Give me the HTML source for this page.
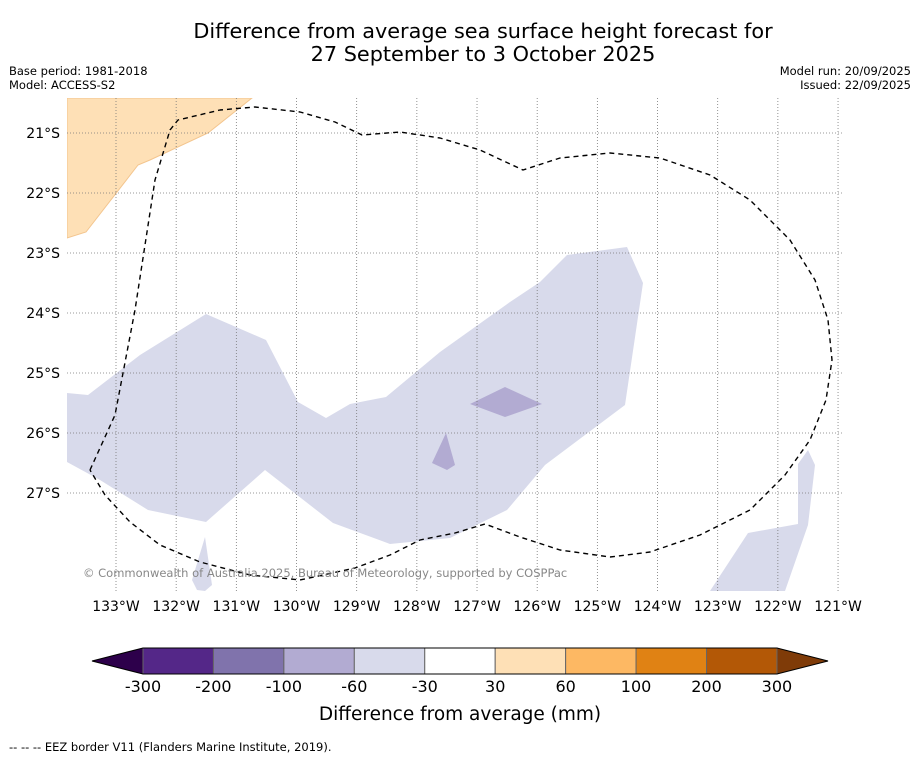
<!DOCTYPE html>
<html><head><meta charset="utf-8">
<style>
html,body{margin:0;padding:0;background:#fff;}
svg{display:block;font-family:"DejaVu Sans","Liberation Sans",sans-serif;}
</style></head>
<body>
<svg id="chart" width="919" height="758" viewBox="0 0 919 758">
<text x="483" y="38" font-size="20.8" text-anchor="middle">Difference from average sea surface height forecast for</text>
<text x="483" y="61" font-size="20.8" text-anchor="middle">27 September to 3 October 2025</text>
<text x="9" y="75" font-size="11.5">Base period: 1981-2018</text>
<text x="9" y="89" font-size="11.5">Model: ACCESS-S2</text>
<text x="911" y="75" font-size="11.5" text-anchor="end">Model run: 20/09/2025</text>
<text x="911" y="89" font-size="11.5" text-anchor="end">Issued: 22/09/2025</text>
<defs><clipPath id="mapclip"><rect x="67" y="98" width="776" height="493"/></clipPath></defs>
<g id="map" clip-path="url(#mapclip)"></g>
<g id="axes"></g>
<text x="83" y="577" font-size="11.5" fill="#888">© Commonwealth of Australia 2025, Bureau of Meteorology, supported by COSPPac</text>
<g id="cbar"></g>
<text x="460" y="720" font-size="18.5" text-anchor="middle">Difference from average (mm)</text>
<text x="9" y="751" font-size="11.5">--  --  -- EEZ border V11 (Flanders Marine Institute, 2019).</text>
</svg>
<script>
const cbTicks = ["-300","-200","-100","-60","-30","30","60","100","200","300"];
const cbColors = ["#542788","#8073ac","#b2abd2","#d8daeb","#ffffff","#fee0b6","#fdb863","#e08214","#b35806"];
const cbExtLow = "#2d004b", cbExtHigh = "#7f3b08";
const lonTicks = [133,132,131,130,129,128,127,126,125,124,123,122,121];
const latTicks = [21,22,23,24,25,26,27];

const NS="http://www.w3.org/2000/svg";
function mk(tag,attrs,parent){const e=document.createElementNS(NS,tag);for(const k in attrs)e.setAttribute(k,attrs[k]);parent.appendChild(e);return e;}
const xLon = w => 116 + (133 - w) * 60.17;
const yLat = s => 133 + (s - 21) * 60;
const cbX = i => 143 + i * 70.44;

const map=document.getElementById('map');
const geom = {
 land: [[67,98],[252,98],[208,133],[150,160],[138,165],[86,232],[67,238]],
 main: [[67,393],[88,395],[140,355],[206,314],[266,340],[298,402],[326,418],[350,404],[386,397],[440,352],[510,302],[540,282],[567,255],[627,247],[643,283],[625,405],[545,465],[507,510],[450,538],[390,544],[333,523],[265,470],[206,522],[148,510],[100,480],[67,462]],
 se: [[710,591],[748,533],[798,524],[798,464],[808,450],[815,465],[808,525],[785,591]],
 sw: [[192,580],[205,537],[212,585],[205,591],[197,590]],
 d1: [[470,404],[505,387],[542,404],[505,417]],
 d2: [[432,463],[446,433],[455,465],[447,470]],
 eez: [[90,470],[115,415],[135,310],[155,180],[170,130],[178,120],[220,110],[255,107],[300,112],[335,122],[362,135],[400,132],[440,138],[480,150],[523,170],[560,158],[610,153],[660,158],[710,175],[750,200],[790,240],[815,280],[828,320],[832,360],[826,400],[810,440],[785,475],[750,510],[700,535],[650,552],[610,557],[560,550],[520,537],[485,524],[455,533],[420,540],[390,555],[355,568],[300,580],[250,575],[200,562],[160,545],[130,522],[105,495],[90,470]]
};
const pts=a=>a.map(p=>p.join(',')).join(' ');
let e;
e=mk('polygon',{points:pts(geom.land),fill:cbColors[5],stroke:"#f3c58e","stroke-width":1},map);


for(const k of ['main','se','sw']){
 e=mk('polygon',{points:pts(geom[k]),fill:cbColors[3]},map);
 
 
}
for(const k of ['d1','d2']){
 e=mk('polygon',{points:pts(geom[k]),fill:cbColors[2]},map);
 
 
}
for(const w of lonTicks){
 e=mk('line',{x1:xLon(w),x2:xLon(w),y1:98,y2:591,stroke:"#777","stroke-width":0.8,"stroke-dasharray":"1,2"},map);
 
 
}
for(const s of latTicks){
 e=mk('line',{x1:67,x2:843,y1:yLat(s),y2:yLat(s),stroke:"#777","stroke-width":0.8,"stroke-dasharray":"1,2"},map);
 
 
}
e=mk('polyline',{points:pts(geom.eez),fill:"none",stroke:"#000","stroke-width":1.4,"stroke-dasharray":"5,4","stroke-linejoin":"round"},map);



const axes=document.getElementById('axes');
for(const w of lonTicks){
 e=mk('text',{x:xLon(w),y:611,"font-size":14,"text-anchor":"middle"},axes);
 e.textContent=w+"°W";
 
 
}
for(const s of latTicks){
 e=mk('text',{x:60,y:yLat(s)+5,"font-size":14,"text-anchor":"end"},axes);
 e.textContent=s+"°S";
 
 
}

const cb=document.getElementById('cbar');
const y0=648,y1=674;
e=mk('polygon',{points:`${cbX(0)},${y0} ${cbX(0)},${y1} 92,${(y0+y1)/2}`,fill:cbExtLow},cb);


const n=cbColors.length;
e=mk('polygon',{points:`${cbX(n)},${y0} ${cbX(n)},${y1} 828,${(y0+y1)/2}`,fill:cbExtHigh},cb);


cbColors.forEach((c,i)=>{
 e=mk('rect',{x:cbX(i),y:y0,width:cbX(i+1)-cbX(i),height:y1-y0,fill:c,stroke:"#666","stroke-width":1},cb);
 
 
});
e=mk('polygon',{points:`92,${(y0+y1)/2} ${cbX(0)},${y0} ${cbX(n)},${y0} 828,${(y0+y1)/2} ${cbX(n)},${y1} ${cbX(0)},${y1}`,fill:"none",stroke:"#000","stroke-width":1},cb);


cbTicks.forEach((t,i)=>{
 e=mk('text',{x:cbX(i),y:692,"font-size":16,"text-anchor":"middle"},cb);
 e.textContent=t;
 
 
});
</script>
</body></html>
